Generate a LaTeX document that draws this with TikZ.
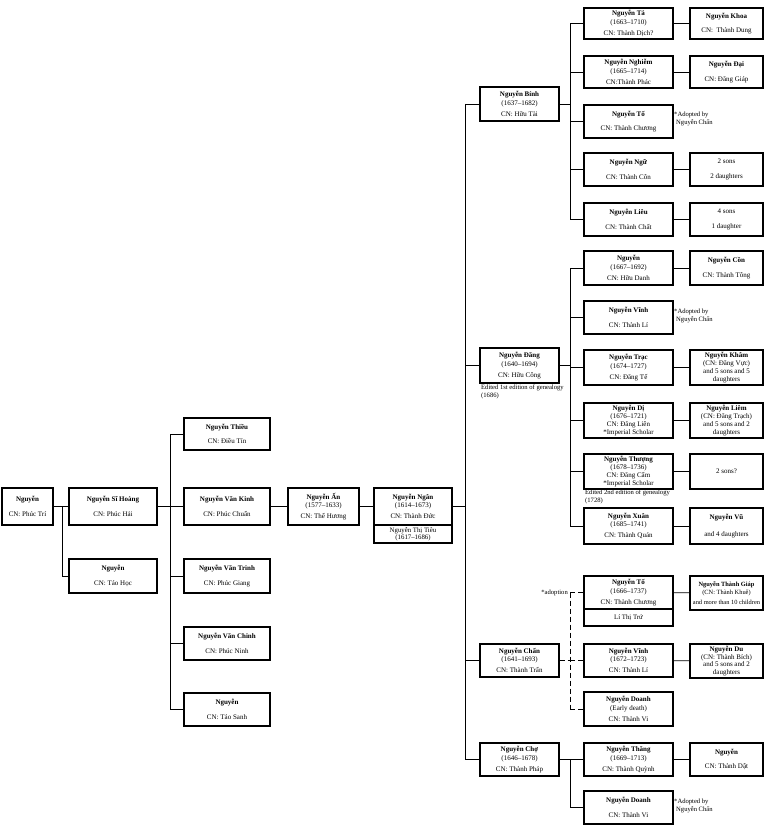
\documentclass[tikz,border=0pt]{standalone}
\usepackage{fontspec}
\setmainfont{Liberation Serif}

\begin{document}
\begin{tikzpicture}[x=1pt, y=-1pt,
    person/.style={draw, line width=1.3pt, align=center, inner sep=0.5pt, font=\fontsize{7}{8.4}\selectfont},
    tight/.style={font=\fontsize{7}{7.8}\selectfont},
    spouse/.style={person, minimum height=18pt, font=\fontsize{6.8}{7.3}\selectfont},
    note/.style={align=left, inner sep=0pt, font=\fontsize{6.6}{7.6}\selectfont},
    link/.style={line width=0.7pt},
    adopt/.style={link, dash pattern=on 5pt off 3pt}]
    \useasboundingbox (0,0) rectangle (768,832);

    % Founder and his sons
    \node[person, minimum width=51pt, minimum height=37pt] (root) at (27.5,506.5) {\textbf{Nguyễn}\\[6pt]CN: Phúc Trí};
    \node[person, minimum width=88pt, minimum height=37pt] (sihoang) at (113,506.5) {\textbf{Nguyễn Sĩ Hoàng}\\[6pt]CN: Phúc Hải};
    \node[person, minimum width=88pt, minimum height=34pt] (taohoc) at (113,576) {\textbf{Nguyễn}\\[6pt]CN: Táo Học};

    % Sons of Nguyen Si Hoang
    \node[person, minimum width=86pt, minimum height=32pt] (thieu) at (227,434) {\textbf{Nguyễn Thiều}\\[6pt]CN: Điều Tín};
    \node[person, minimum width=86pt, minimum height=37pt] (kinh) at (227,506.5) {\textbf{Nguyễn Văn Kinh}\\[6pt]CN: Phúc Chuẩn};
    \node[person, minimum width=86pt, minimum height=34pt] (trinh) at (227,576) {\textbf{Nguyễn Văn Trinh}\\[6pt]CN: Phúc Giang};
    \node[person, minimum width=86pt, minimum height=33pt] (chinh) at (227,643.5) {\textbf{Nguyễn Văn Chinh}\\[6pt]CN: Phúc Ninh};
    \node[person, minimum width=86pt, minimum height=33pt] (sanh) at (227,709.5) {\textbf{Nguyễn}\\[6pt]CN: Táo Sanh};

    % An and Ngan
    \node[person, minimum width=71pt, minimum height=37pt] (an) at (323.5,506.5) {\textbf{Nguyễn Ấn}\\(1577–1633)\\[2.5pt]CN: Thế Hương};
    \node[person, minimum width=78pt, minimum height=37pt] (ngan) at (413,506.5) {\textbf{Nguyễn Ngân}\\(1614–1673)\\[2.5pt]CN: Thành Đức};
    \node[spouse, minimum width=78pt] (tieu) at (413,534) {Nguyễn Thị Tiêu\\(1617–1686)};

    % Sons of Nguyen Ngan
    \node[person, minimum width=79pt, minimum height=34pt] (binh) at (519.5,104) {\textbf{Nguyễn Bính}\\(1637–1682)\\[2.5pt]CN: Hữu Tài};
    \node[person, minimum width=79pt, minimum height=35pt] (dang) at (519.5,365.5) {\textbf{Nguyễn Đăng}\\(1640–1694)\\[2.5pt]CN: Hữu Công};
    \node[person, minimum width=79pt, minimum height=33pt] (chan) at (519.5,660.5) {\textbf{Nguyễn Chấn}\\(1641–1693)\\[2.5pt]CN: Thành Trấn};
    \node[person, minimum width=79pt, minimum height=33pt] (cho) at (519.5,759.5) {\textbf{Nguyễn Chợ}\\(1646–1678)\\[2.5pt]CN: Thành Pháp};
    \node[note, anchor=north west] (ed1) at (481,385) {Edited 1st edition of genealogy\\(1686)};

    % Sons of Nguyen Binh
    \node[person, minimum width=89pt, minimum height=31pt] (ta) at (628.5,23.5) {\textbf{Nguyễn Tá}\\(1663–1710)\\[2.5pt]CN: Thành Dịch?};
    \node[person, minimum width=89pt, minimum height=32pt] (nghiem) at (628.5,72) {\textbf{Nguyễn Nghiễm}\\(1665–1714)\\[2.5pt]CN:Thành Phác};
    \node[person, minimum width=89pt, minimum height=33pt] (to1) at (628.5,121.5) {\textbf{Nguyễn Tố}\\[6pt]CN: Thành Chương};
    \node[person, minimum width=89pt, minimum height=33pt] (ngu) at (628.5,169.5) {\textbf{Nguyễn Ngữ}\\[6pt]CN: Thành Côn};
    \node[person, minimum width=89pt, minimum height=33pt] (lieu) at (628.5,219.5) {\textbf{Nguyễn Liêu}\\[6pt]CN: Thành Chất};
    \node[note, anchor=north west] (ad1) at (674,112) {*Adopted by\\\hspace*{2pt}Nguyễn Chấn};

    % Grandsons via Nguyen Binh
    \node[person, minimum width=73pt, minimum height=31pt] (khoa) at (726.5,23.5) {\textbf{Nguyễn Khoa}\\[6pt]CN:\ \ Thành Dung};
    \node[person, minimum width=73pt, minimum height=32pt] (dai) at (726.5,72) {\textbf{Nguyễn Đại}\\[6pt]CN: Đăng Giáp};
    \node[person, minimum width=73pt, minimum height=33pt] (ngukids) at (726.5,169.5) {2 sons\\[6pt]2 daughters};
    \node[person, minimum width=73pt, minimum height=33pt] (lieukids) at (726.5,219.5) {4 sons\\[6pt]1 daughter};

    % Sons of Nguyen Dang
    \node[person, minimum width=89pt, minimum height=34pt] (vodanh) at (628.5,268) {\textbf{Nguyễn}\\(1667–1692)\\[2.5pt]CN: Hữu Danh};
    \node[person, minimum width=89pt, minimum height=33pt] (vinh1) at (628.5,317.5) {\textbf{Nguyễn Vĩnh}\\[6pt]CN: Thành Lí};
    \node[person, minimum width=89pt, minimum height=35pt] (trac) at (628.5,367.5) {\textbf{Nguyễn Trạc}\\(1674–1727)\\[2.5pt]CN: Đăng Tế};
    \node[person, tight, minimum width=89pt, minimum height=35pt] (di) at (628.5,420.5) {\textbf{Nguyễn Dị}\\(1676–1721)\\CN: Đăng Liên\\*Imperial Scholar};
    \node[person, tight, minimum width=89pt, minimum height=35pt] (thuong) at (628.5,471.5) {\textbf{Nguyễn Thượng}\\(1678–1736)\\CN: Đăng Cẩm\\*Imperial Scholar};
    \node[person, minimum width=89pt, minimum height=36pt] (xuan) at (628.5,526) {\textbf{Nguyễn Xuân}\\(1685–1741)\\[2.5pt]CN: Thành Quán};
    \node[note, anchor=north west] (ad2) at (674,309) {*Adopted by\\\hspace*{2pt}Nguyễn Chấn};
    \node[note, anchor=north west] (ed2) at (585,490) {Edited 2nd edition of genealogy\\(1728)};

    % Grandsons via Nguyen Dang
    \node[person, minimum width=73pt, minimum height=34pt] (con) at (726.5,268) {\textbf{Nguyễn Cồn}\\[6pt]CN: Thành Tông};
    \node[person, tight, minimum width=73pt, minimum height=35pt] (kham) at (726.5,367.5) {\textbf{Nguyễn Khâm}\\(CN: Đăng Vực)\\and 5 sons and 5\\daughters};
    \node[person, tight, minimum width=73pt, minimum height=35pt] (liem) at (726.5,420.5) {\textbf{Nguyễn Liêm}\\(CN: Đăng Trạch)\\and 5 sons and 2\\daughters};
    \node[person, minimum width=73pt, minimum height=35pt] (twosons) at (726.5,471.5) {2 sons?};
    \node[person, minimum width=73pt, minimum height=36pt] (vu) at (726.5,526) {\textbf{Nguyễn Vũ}\\[8pt]and 4 daughters};

    % Sons of Nguyen Chan
    \node[person, minimum width=89pt, minimum height=33pt] (to2) at (628.5,592.5) {\textbf{Nguyễn Tố}\\(1666–1737)\\[2.5pt]CN: Thành Chương};
    \node[spouse, minimum width=89pt, minimum height=17pt] (tru) at (628.5,617.5) {Lí Thị Trứ};
    \node[person, minimum width=89pt, minimum height=33pt] (vinh2) at (628.5,660.5) {\textbf{Nguyễn Vĩnh}\\(1672–1723)\\[2.5pt]CN: Thành Lí};
    \node[person, minimum width=89pt, minimum height=34pt] (doanh1) at (628.5,709) {\textbf{Nguyễn Doanh}\\(Early death)\\[2.5pt]CN: Thành Vi};
    \node[note, anchor=east] (adnote) at (568,593) {*adoption};
    \node[person, minimum width=73pt, minimum height=34pt, font=\fontsize{6.4}{8}\selectfont] (giap) at (726.5,593) {\textbf{Nguyễn Thành Giáp}\\(CN: Thành Khuê)\\[2.5pt]and more than 10 children};
    \node[person, tight, minimum width=73pt, minimum height=34pt] (du) at (726.5,661) {\textbf{Nguyễn Du}\\(CN: Thành Bích)\\and 5 sons and 2\\daughters};

    % Sons of Nguyen Cho
    \node[person, minimum width=89pt, minimum height=33pt] (thang) at (628.5,759.5) {\textbf{Nguyễn Thăng}\\(1669–1713)\\[2.5pt]CN: Thành Quỳnh};
    \node[person, minimum width=89pt, minimum height=33pt] (doanh2) at (628.5,807.5) {\textbf{Nguyễn Doanh}\\[6pt]CN: Thành Vi};
    \node[person, minimum width=73pt, minimum height=33pt] (dat) at (726.5,759.5) {\textbf{Nguyễn}\\[6pt]CN: Thành Dật};
    \node[note, anchor=north west] (ad3) at (674,799) {*Adopted by\\\hspace*{2pt}Nguyễn Chấn};

    % Branch points
    \coordinate (b1) at (62,0);
    \coordinate (b2) at (170,0);
    \coordinate (b3) at (465,0);
    \coordinate (b4) at (570,0);

    % Links
    \draw[link] (root) -- (sihoang);
    \draw[link] (root.east -| b1) |- (taohoc.west);
    \draw[link] (sihoang.east) -- (sihoang.east -| b2);
    \draw[link] (thieu.west -| b2) -- (sanh.west -| b2);
    \draw[link] (thieu.west -| b2) -- (thieu.west);
    \draw[link] (kinh.west -| b2) -- (kinh.west);
    \draw[link] (trinh.west -| b2) -- (trinh.west);
    \draw[link] (chinh.west -| b2) -- (chinh.west);
    \draw[link] (sanh.west -| b2) -- (sanh.west);
    \draw[link] (kinh) -- (an);
    \draw[link] (an) -- (ngan);
    \draw[link] (ngan.east) -- (ngan.east -| b3);
    \draw[link] (binh.west -| b3) -- (cho.west -| b3);
    \draw[link] (binh.west -| b3) -- (binh.west);
    \draw[link] (dang.west -| b3) -- (dang.west);
    \draw[link] (chan.west -| b3) -- (chan.west);
    \draw[link] (cho.west -| b3) -- (cho.west);

    \draw[link] (binh.east) -- (binh.east -| b4);
    \draw[link] (ta.west -| b4) -- (lieu.west -| b4);
    \draw[link] (ta.west -| b4) -- (ta.west);
    \draw[link] (nghiem.west -| b4) -- (nghiem.west);
    \draw[link] (to1.west -| b4) -- (to1.west);
    \draw[link] (ngu.west -| b4) -- (ngu.west);
    \draw[link] (lieu.west -| b4) -- (lieu.west);
    \draw[link] (ta) -- (khoa);
    \draw[link] (nghiem) -- (dai);
    \draw[link] (ngu) -- (ngukids);
    \draw[link] (lieu) -- (lieukids);

    \draw[link] (dang.east) -- (dang.east -| b4);
    \draw[link] (vodanh.west -| b4) -- (xuan.west -| b4);
    \draw[link] (vodanh.west -| b4) -- (vodanh.west);
    \draw[link] (vinh1.west -| b4) -- (vinh1.west);
    \draw[link] (trac.west -| b4) -- (trac.west);
    \draw[link] (di.west -| b4) -- (di.west);
    \draw[link] (thuong.west -| b4) -- (thuong.west);
    \draw[link] (xuan.west -| b4) -- (xuan.west);
    \draw[link] (vodanh) -- (con);
    \draw[link] (trac) -- (kham);
    \draw[link] (di) -- (liem);
    \draw[link] (thuong) -- (twosons);
    \draw[link] (xuan) -- (vu);

    \draw[adopt] (chan.east) -- (chan.east -| b4);
    \draw[adopt] (to2.west -| b4) -- (doanh1.west -| b4);
    \draw[adopt] (to2.west -| b4) -- (to2.west);
    \draw[adopt] (vinh2.west -| b4) -- (vinh2.west);
    \draw[adopt] (doanh1.west -| b4) -- (doanh1.west);
    \draw[link] (to2) -- (giap);
    \draw[link] (vinh2) -- (du);

    \draw[link] (cho.east) -- (cho.east -| b4);
    \draw[link] (thang.west -| b4) |- (doanh2.west);
    \draw[link] (thang.west -| b4) -- (thang.west);
    \draw[link] (thang) -- (dat);
\end{tikzpicture}
\end{document}
